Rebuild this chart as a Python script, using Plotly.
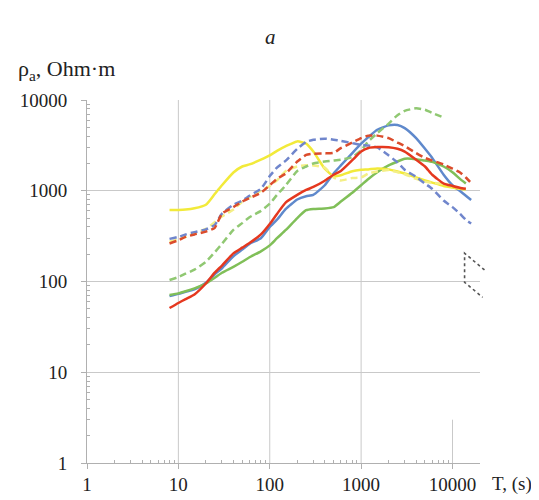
import math
import plotly.graph_objects as go

# ---------------- data ----------------
T_grid = [8, 10, 12, 15, 20, 25, 30, 40, 50, 60, 80, 100, 120, 150, 200, 250, 300,
          400, 500, 600, 800, 1000, 1200, 1500, 2000, 2500, 3000, 4000, 5000, 6000,
          8000, 10000, 12000, 14000, 16000]

blue_solid = [69, 73, 77, 82, 97, 120, 140, 190, 225, 260, 300, 400, 480, 630, 800, 870, 900,
              1150, 1550, 1900, 2600, 3300, 3900, 4700, 5250, 5300, 4900, 3800, 2900, 2300,
              1500, 1150, 1000, 880, 790]
red_solid = [51, 58, 64, 72, 95, 125, 150, 204, 236, 265, 330, 430, 555, 745, 900, 1020, 1100,
             1290, 1500, 1650, 2170, 2700, 2960, 3030, 3020, 2900, 2700, 2200, 1850, 1500,
             1200, 1130, 1080, 1050, None]
green_solid = [71, 74, 78, 84, 95, 110, 125, 145, 165, 185, 215, 250, 300, 370, 500, 610, 630,
               638, 660, 760, 950, 1150, 1350, 1600, 1900, 2100, 2250, 2230, 2150, 2080,
               1850, 1600, 1360, 1200, None]
yellow_solid = [615, 615, 620, 640, 700, 920, 1150, 1590, 1850, 1950, 2200, 2450, 2750, 3100,
                3500, 3300, 2700, 1750, 1450, 1480, 1640, 1700, 1720, 1760, 1720, 1630, 1550,
                1400, 1300, 1230, 1130, 1085, 1050, 1030, None]

blue_dash = [295, 310, 330, 350, 375, 420, 560, 700, 780, 880, 1050, 1450, 1800, 2150, 2900,
             3450, 3650, 3750, 3650, 3550, 3350, 3200, 3150, 3000, 2450, 2050, 1700, 1420,
             1200, 1050, 780, 660, 560, 480, 436]
red_dash = [262, 285, 310, 330, 355, 390, 560, 660, 760, 830, 950, 1150, 1350, 1550, 2100,
            2480, 2560, 2580, 2620, 2950, 3400, 3800, 4050, 4050, 3800, 3400, 3100, 2600,
            2300, 2150, 1950, 1750, 1600, 1400, 1220]
green_dash = [104, 112, 122, 135, 165, 210, 260, 370, 440, 510, 600, 720, 900, 1150, 1650,
              1850, 2000, 2100, 2150, 2200, 2350, 2800, 3500, 4300, 5500, 6800, 7600, 8100,
              7800, 7200, 6400, None, None, None, None]
yellow_dash = [275, 290, 310, 340, 380, 450, 520, 620, 760, 850, 1000, 1130, 1300, 1650, 1850,
               1910, 1900, 1800, 1400, 1300, 1380, 1400, 1550, 1630, 1690, 1600, 1520, 1350,
               1260, 1220, 1200, 1120, 1060, None, None]

x_ticks = [1, 10, 100, 1000, 10000]
y_ticks = [1, 10, 100, 1000, 10000]
x_max = 20000
minor_x = [m * 10 ** d for d in range(0, 5) for m in range(2, 10) if m * 10 ** d < x_max]
minor_y = [m * 10 ** d for d in range(0, 4) for m in range(2, 10)]

# dotted slope guide (T, rho)
guide_T = [22400, 13560, 13560, 21350]
guide_rho = [134, 205, 98, 67]

series = [
    ("blue_solid", blue_solid, "#5f89cc", "solid"),
    ("green_solid", green_solid, "#80bf58", "solid"),
    ("yellow_solid", yellow_solid, "#f2ea3a", "solid"),
    ("yellow_dash", yellow_dash, "#f4ef86", "7px,4px"),
    ("green_dash", green_dash, "#90c872", "7px,4px"),
    ("blue_dash", blue_dash, "#7086cc", "7px,4px"),
    ("red_dash", red_dash, "#db4c2c", "7px,4px"),
    ("red_solid", red_solid, "#e5381f", "solid"),
]

fig = go.Figure()
for name, vals, col, dash in series:
    xs = [t for t, v in zip(T_grid, vals) if v is not None]
    ys = [v for v in vals if v is not None]
    fig.add_trace(go.Scatter(x=xs, y=ys, mode="lines", name=name,
                             line=dict(color=col, width=2.5, dash=dash, shape="spline",
                                       smoothing=0.5),
                             showlegend=False))

grid_col = "#c9c9c9"
xlog_max = math.log10(x_max)

# vertical gridlines (10000 line only partially visible in reference)
for xv in x_ticks[1:4]:
    fig.add_shape(type="line", x0=xv, x1=xv, y0=1, y1=10000, xref="x", yref="y",
                  line=dict(color=grid_col, width=1), layer="below")
fig.add_shape(type="line", x0=10000, x1=10000, y0=1, y1=3, xref="x", yref="y",
              line=dict(color=grid_col, width=1), layer="below")

# dotted guide: convert T to paper using the axis range so it can extend past the axis end
gp = [math.log10(t) / xlog_max for t in guide_T]
path = "M {} {} L {} {} L {} {} L {} {}".format(
    gp[0], guide_rho[0], gp[1], guide_rho[1], gp[2], guide_rho[2], gp[3], guide_rho[3])
fig.add_shape(type="path", path=path, xref="paper", yref="y",
              line=dict(color="#555555", width=1.6, dash="dot"))

serif = "Liberation Serif, Times New Roman, serif"
tick_font = dict(family=serif, size=19, color="#222222")
# the page body adds an 8px offset, so the figure is 8px smaller on each axis
fig.update_layout(
    width=531, height=492,
    margin=dict(l=79, r=59, t=92, b=37, autoexpand=False),
    paper_bgcolor="white", plot_bgcolor="white",
    font=dict(family=serif, size=19, color="#222222"),
    xaxis=dict(type="log", range=[0, xlog_max], tickvals=x_ticks,
               ticktext=[str(v) for v in x_ticks], showgrid=False, automargin=False,
               showline=True, linecolor="#b0b0b0", linewidth=1,
               ticks="outside", ticklen=5, tickcolor="#b0b0b0",
               minor=dict(tickmode="array", tickvals=minor_x, ticks="inside", ticklen=3,
                          tickcolor="#b0b0b0", showgrid=False),
               zeroline=False, ticklabelstandoff=-1, tickfont=tick_font),
    yaxis=dict(type="log", range=[0, 4], tickvals=y_ticks,
               ticktext=[str(v) for v in y_ticks], showgrid=True, gridcolor=grid_col,
               gridwidth=1, showline=True, linecolor="#b0b0b0", linewidth=1, automargin=False,
               ticks="outside", ticklen=5, tickcolor="#b0b0b0",
               minor=dict(tickmode="array", tickvals=minor_y, ticks="inside", ticklen=3,
                          tickcolor="#b0b0b0", showgrid=False),
               zeroline=False, ticklabelstandoff=10, tickfont=tick_font),
    annotations=[
        dict(text="<i>a</i>", xref="paper", yref="paper", x=0.466, y=1.1736,
             showarrow=False, xanchor="center", yanchor="middle",
             font=dict(family=serif, size=21, color="#222222")),
        dict(text="ρ<sub>a</sub>, Ohm·m", xref="paper", yref="paper", x=-0.18, y=1.083,
             showarrow=False, xanchor="left", yanchor="middle",
             font=dict(family=serif, size=22, color="#222222")),
        dict(text="T, (s)", xref="paper", yref="paper", x=1.025, y=-0.058,
             showarrow=False, xanchor="left", yanchor="middle",
             font=dict(family=serif, size=19, color="#222222")),
    ],
)

fig.write_html("out.html")
